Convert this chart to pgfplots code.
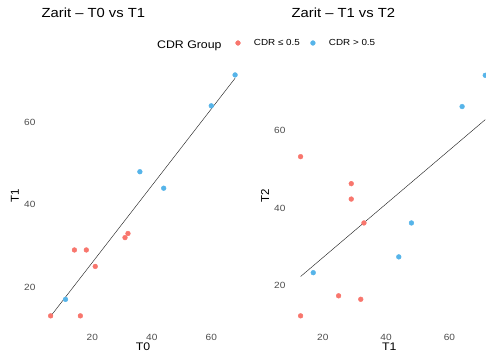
\documentclass[border=0pt]{standalone}
\usepackage{pgfplots}
\pgfplotsset{compat=1.18}
\usepackage{fontspec}
\setmainfont[FakeStretch=1.12]{Liberation Sans}
\newfontfamily\plainsans{Liberation Sans}
\definecolor{cdrlow}{HTML}{F8766D}
\definecolor{cdrhigh}{HTML}{56B4E9}
\definecolor{tickgray}{HTML}{4D4D4D}
\pgfplotsset{
  zpanel/.style={
    scale only axis,
    height=264.8pt,
    axis x line*=bottom, axis y line*=left,
    axis line style={draw=none},
    tick style={draw=none},
    major tick length=0pt,
    clip=false,
    xtick={20,40,60}, ytick={20,40,60},
    /pgf/number format/assume math mode=true,
    ticklabel style={font=\fontsize{9}{10}\selectfont, text=tickgray},
    xticklabel style={yshift=-2.6pt},
    yticklabel style={xshift=-2.5pt},
    title style={at={(axis description cs:0,1)}, anchor=base west, inner sep=0pt, yshift=39.7pt, font=\fontsize{13.2}{15}\selectfont},
    xlabel style={anchor=center, inner sep=0pt, font=\fontsize{11}{13}\selectfont},
    ylabel style={anchor=center, inner sep=0pt, font=\plainsans\fontsize{11.5}{13}\selectfont},
  },
  lowpts/.style={only marks, mark=*, mark size=2.4pt, color=cdrlow},
  highpts/.style={only marks, mark=*, mark size=2.4pt, color=cdrhigh},
  fitline/.style={black!85, line width=0.45pt, forget plot},
}
\begin{document}
\begin{tikzpicture}
\begin{axis}[zpanel,
  at={(41.4pt,24.2pt)}, anchor=south west,
  width=203.5pt,
  xmin=2.9, xmax=71.3, ymin=10.1, ymax=74.4,
  title={Zarit – T0 vs T1},
  xlabel={T0}, ylabel={T1},
  xlabel style={at={(axis description cs:0.5,-0.0725)}},
  ylabel style={at={(axis description cs:-0.1297,0.5)}},
  legend columns=-1,
  legend image code/.code={\path[draw=none,fill=none] (0pt,0pt) (10pt,0pt); \draw[#1] plot coordinates {(5pt,0pt)};},
  legend style={draw=none, fill=none, inner sep=0pt, outer sep=0pt,
    at={(axis description cs:0.9415,1.0755)}, anchor=west,
    font=\fontsize{8.8}{10}\selectfont,
    nodes={inner sep=0pt},
    /tikz/every odd column/.append style={column sep=11pt},
    /tikz/every even column/.append style={column sep=8pt}},
]
\addplot[lowpts] coordinates {(6,13) (16,13) (14,29) (18,29) (21,25) (31,32) (32,33)};
\addlegendentry{CDR ≤ 0.5}
\addplot[highpts] coordinates {(11,17) (36,48) (44,44) (60,64) (68,71.5)};
\addlegendentry{CDR > 0.5}
\addplot[fitline] coordinates {(6,12.9) (68,70.7)};
\node[anchor=base west, inner sep=0pt, font=\fontsize{11}{13}\selectfont] at (axis description cs:0.568,1.054) {CDR Group};
\end{axis}
\begin{axis}[zpanel,
  at={(291.4pt,24.2pt)}, anchor=south west,
  width=195.6pt,
  xmin=10.1, xmax=71.86, ymin=8.9, ymax=77.6,
  title={Zarit – T1 vs T2},
  xlabel={T1}, ylabel={T2},
  xlabel style={at={(axis description cs:0.5,-0.0725)}},
  ylabel style={at={(axis description cs:-0.135,0.5)}},
]
\addplot[lowpts] coordinates {(13,53.3) (13,12) (25,17.2) (29,46.3) (29,42.3) (32,16.3) (33,36.1)};
\addplot[highpts] coordinates {(17,23.2) (44,27.3) (48,36.1) (64,66.3) (71.3,74.4)};
\addplot[fitline] coordinates {(13,22.2) (71.3,62.9)};
\end{axis}
\pgfresetboundingbox
\useasboundingbox (0,0) rectangle (486pt,352pt);
\end{tikzpicture}
\end{document}
